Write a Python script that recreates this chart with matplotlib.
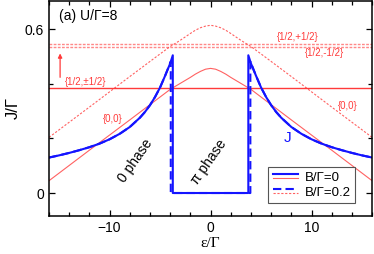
import numpy as np
import matplotlib
matplotlib.use("Agg")
import matplotlib.pyplot as plt
from matplotlib.legend_handler import HandlerBase
from matplotlib.lines import Line2D

plt.rcParams['font.family'] = ['Liberation Sans', 'DejaVu Sans']

# Josephson current J, B=0 (blue solid)
eps_J0 = [-16, -15, -14, -13, -12, -11, -10, -9, -8, -7, -6.5, -6, -5.5, -5, -4.5, -4, -3.74,
          -3.74, 3.74,
          3.74, 4, 4.5, 5, 5.5, 6, 6.5, 7, 8, 9, 10, 11, 12, 13, 14, 15, 16]
J0 = [0.130, 0.138, 0.147, 0.157, 0.168, 0.181, 0.197, 0.217, 0.242, 0.276, 0.297, 0.322, 0.352, 0.387, 0.430, 0.475, 0.505,
      0.0, 0.0,
      0.505, 0.475, 0.430, 0.387, 0.352, 0.322, 0.297, 0.276, 0.242, 0.217, 0.197, 0.181, 0.168, 0.157, 0.147, 0.138, 0.130]

# J, B=0.2 (blue dashed)
eps_J2 = [-16, -15, -14, -13, -12, -11, -10, -9, -8, -7, -6.5, -6, -5.5, -5, -4.5, -3.94,
          -3.94, 3.94,
          3.94, 4.5, 5, 5.5, 6, 6.5, 7, 8, 9, 10, 11, 12, 13, 14, 15, 16]
J2 = [0.130, 0.138, 0.147, 0.157, 0.168, 0.181, 0.197, 0.217, 0.242, 0.276, 0.297, 0.322, 0.352, 0.387, 0.430, 0.482,
      0.0, 0.0,
      0.482, 0.430, 0.387, 0.352, 0.322, 0.297, 0.276, 0.242, 0.217, 0.197, 0.181, 0.168, 0.157, 0.147, 0.138, 0.130]

# {0,0} state, B=0 (red solid) and B=0.2 (red dashed)
eps_00 = [-16, -12, -8, -5, -4, -3, -2, -1.5, -1, -0.5, 0, 0.5, 1, 1.5, 2, 3, 4, 5, 8, 12, 16]
E00_B0 = [0.045, 0.157, 0.268, 0.352, 0.380, 0.402, 0.424, 0.436, 0.446, 0.454, 0.457,
          0.454, 0.446, 0.436, 0.424, 0.402, 0.380, 0.352, 0.268, 0.157, 0.045]
E00_B2 = [0.204, 0.315, 0.427, 0.510, 0.537, 0.560, 0.585, 0.597, 0.606, 0.612, 0.615,
          0.612, 0.606, 0.597, 0.585, 0.560, 0.537, 0.510, 0.427, 0.315, 0.204]

# {1/2,+-1/2} levels
E_half_B0 = 0.384
E_half_B2 = [0.548, 0.537]

blue = '#1414ff'
red = '#ff3a3a'


class PairHandler(HandlerBase):
    def create_artists(self, legend, orig_handle, xdescent, ydescent,
                       width, height, fontsize, trans):
        y0 = (height - ydescent) * 0.5
        xs = [-xdescent, -xdescent + width]
        out = []
        for ln, dy in zip(orig_handle, (1.2, -1.2)):
            l = Line2D(xs, [y0 + dy, y0 + dy])
            l.update_from(ln)
            l.set_transform(trans)
            out.append(l)
        return out


fig = plt.figure(figsize=(3.74, 2.54), dpi=100)
ax = fig.add_axes([0.131, 0.151, 0.864, 0.845])

r0, = ax.plot(eps_00, E00_B0, color=red, lw=0.8, alpha=0.8)
r2, = ax.plot(eps_00, E00_B2, color=red, lw=0.8, alpha=0.8, ls=(0, (2, 1.5)))
ax.axhline(E_half_B0, color=red, lw=1.0)
for e in E_half_B2:
    ax.axhline(e, color=red, lw=1.0, alpha=0.6, ls=(0, (2, 1)))

b2, = ax.plot(eps_J2, J2, color=blue, lw=1.5, ls=(0, (4, 2)))
b0, = ax.plot(eps_J0, J0, color=blue, lw=1.5)

ax.set_xlim(-16, 16)
ax.set_ylim(-0.083, 0.704)
ax.set_xticks([-10, 0, 10])
ax.set_xticks(np.arange(-16, 17, 2), minor=True)
ax.set_yticks([0, 0.6])
ax.set_yticklabels(['0', '0.6'])
ax.set_yticks([0.2, 0.4], minor=True)
ax.tick_params(which='both', direction='in', top=True, right=True, labelsize=10, width=0.9)
ax.tick_params(which='major', length=4.5)
ax.tick_params(which='minor', length=2.7)
for s in ax.spines.values():
    s.set_linewidth(1.1)

ax.set_xlabel('ε/Γ', fontsize=11, family='Liberation Serif', labelpad=2)
ax.set_ylabel('J/Γ', fontsize=12, labelpad=3)

ax.text(-15.0, 0.65, '(a) U/Γ=8', fontsize=10, ha='left', va='center')
ax.annotate('', xy=(-14.9, 0.522), xytext=(-14.9, 0.414),
            arrowprops=dict(arrowstyle='-|>', color=red, lw=0.9, mutation_scale=6))
ax.text(-12.4, 0.408, '{1/2,±1/2}', color=red, fontsize=7, ha='center', va='center')
ax.text(8.6, 0.571, '{1/2,+1/2}', color=red, fontsize=7, ha='center', va='center')
ax.text(11.3, 0.512, '{1/2,-1/2}', color=red, fontsize=7, ha='center', va='center')
ax.text(-9.7, 0.27, '{0,0}', color=red, fontsize=7, ha='center', va='center')
ax.text(13.6, 0.319, '{0,0}', color=red, fontsize=7, ha='center', va='center')
ax.text(7.65, 0.2, 'J', color=blue, fontsize=11, ha='center', va='center')
ax.text(-7.45, 0.12, '0 phase', fontsize=10, rotation=55, ha='center', va='center')
ax.text(-0.2, 0.115, 'π phase', fontsize=10, rotation=55, ha='center', va='center')

leg = ax.legend([(b0, r0), (b2, r2)], ['B/Γ=0', 'B/Γ=0.2'],
                handler_map={tuple: PairHandler()},
                loc='lower right', bbox_to_anchor=(0.947, 0.058),
                fontsize=9.5, fancybox=False, framealpha=1, edgecolor='#555555',
                handlelength=1.9, handletextpad=0.5, borderpad=0.35, labelspacing=0.2,
                borderaxespad=0)
leg.get_frame().set_linewidth(0.8)

fig.savefig('out.png', dpi=100)
